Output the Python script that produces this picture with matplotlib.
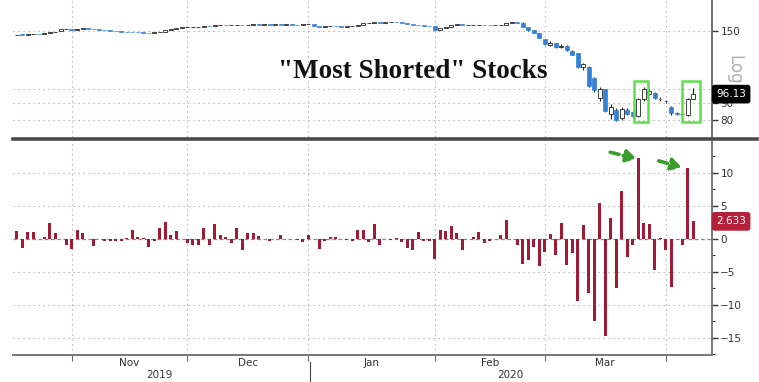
import matplotlib
matplotlib.use("Agg")
import matplotlib.pyplot as plt
import numpy as np
from matplotlib.patches import Rectangle
from matplotlib.lines import Line2D
from matplotlib.ticker import MultipleLocator, NullLocator, NullFormatter

# daily candles (weekday index 0 = mid Oct 2019, 123 = early Apr 2020)
opens = [
    146.0, 146.6, 146.2, 146.8, 147.4, 147.2, 148.0, 149.2, 150.0, 152.0,
    152.6, 151.4, 152.6, 153.0, 152.6, 152.0, 151.8, 151.2, 150.2, 149.8,
    149.4, 149.2, 149.0, 148.8, 148.6, 148.2, 148.8, 149.2, 150.8, 152.4,
    153.6, 154.0, 154.2, 154.6, 155.0, 155.6, 155.4, 156.2, 156.6, 156.4,
    156.8, 157.2, 156.8, 157.2, 157.4, 157.2, 157.4, 157.0, 157.4, 157.2,
    157.6, 157.2, 156.8, 157.6, 157.6, 155.2, 154.8, 155.2, 155.6, 155.4,
    155.0, 155.4, 156.0, 157.0, 158.4, 159.0, 160.0, 159.4, 159.8, 160.0,
    159.6, 159.2, 157.4, 156.4, 156.2, 155.6, 155.2, 151.8, 153.6, 155.0,
    157.0, 157.6, 156.2, 156.2, 156.6, 157.2, 156.6, 156.2, 156.2, 157.2,
    159.4, 159.6, 158.6, 154.6, 150.8, 147.6, 141.6, 135.6, 137.6, 133.8,
    135.0, 130.6, 128.6, 116.4, 116.4, 108.0, 93.4, 99.4, 83.8, 86.2,
    81.0, 86.2, 84.8, 82.2, 92.6, 96.0, 97.0, 92.8, 91.6, 88.0,
    84.0, 83.4, 83.2, 93.2,
]
closes = [
    146.5, 146.0, 146.8, 147.2, 147.0, 147.8, 149.0, 149.6, 152.0, 152.6,
    151.2, 152.6, 153.0, 152.6, 152.0, 151.8, 151.4, 150.2, 149.8, 149.4,
    149.2, 149.0, 148.8, 148.6, 148.2, 148.8, 149.2, 150.8, 152.4, 153.6,
    154.0, 154.2, 154.6, 155.0, 155.6, 155.4, 156.2, 156.6, 156.4, 156.8,
    157.2, 156.8, 157.2, 157.4, 157.2, 157.4, 157.0, 157.4, 157.2, 157.6,
    157.2, 156.8, 157.6, 157.8, 155.2, 154.8, 155.2, 155.6, 155.4, 155.0,
    155.4, 156.0, 157.0, 158.4, 159.0, 160.0, 159.4, 159.8, 160.0, 159.6,
    159.2, 157.4, 156.4, 156.2, 155.6, 155.2, 151.8, 153.6, 155.0, 157.0,
    157.6, 156.2, 156.2, 156.6, 157.2, 156.6, 156.2, 156.2, 156.8, 159.4,
    159.6, 159.0, 155.0, 151.0, 148.6, 143.0, 137.2, 137.8, 134.2, 135.4,
    131.0, 127.0, 116.6, 119.0, 102.0, 99.0, 99.6, 85.2, 88.0, 80.2,
    86.6, 83.8, 82.2, 93.0, 99.4, 98.2, 93.4, 92.6, 91.4, 84.0,
    83.8, 83.6, 92.6, 96.13,
]
# wicks only where they are visible (the sell-off)
wick_idx = list(range(92, 124))
wick_hi = [
    159.6, 155.0, 151.4, 148.4, 141.8, 139.6, 138.0, 136.6, 135.6, 131.2,
    129.0, 120.0, 117.0, 108.6, 100.8, 100.0, 89.4, 87.0, 87.8, 87.0,
    85.4, 93.8, 101.0, 99.6, 97.6, 94.2, 92.4, 88.6, 85.0, 84.4,
    93.4, 100.2,
]
wick_lo = [
    154.6, 150.4, 148.0, 142.6, 136.4, 135.0, 133.6, 132.8, 130.4, 126.4,
    116.0, 113.8, 101.4, 97.8, 91.6, 84.6, 80.4, 79.4, 79.8, 83.0,
    81.2, 81.6, 91.8, 95.4, 92.8, 91.8, 90.6, 83.2, 83.0, 82.8,
    82.6, 92.8,
]

# lower panel bars
bar_vals = [
    1.1, -1.4, 1.0, 1.0, 0.0, 0.2, 2.4, 0.8, -0.1, -1.0,
    -1.6, 1.4, 0.8, 0.0, -1.1, 0.0, -0.3, -0.3, -0.3, -0.3,
    0.1, 1.3, 0.3, 0.1, -1.3, -0.3, 1.7, 2.6, 0.6, 1.1,
    0.0, -0.6, -1.0, -1.0, 1.7, -1.0, 2.3, 0.5, 0.2, -0.6,
    1.6, -1.7, 0.8, 0.8, 0.4, 0.0, -0.4, 0.0, 0.6, 0.0,
    0.0, -0.2, -0.5, 0.6, 0.0, -1.5, -0.3, 0.3, 0.3, 0.0,
    -0.2, -0.3, 1.3, 1.3, -0.5, 2.2, -1.0, 0.0, -0.2, 0.1,
    -0.5, -1.4, -1.7, 1.0, -0.3, -0.3, -3.0, 1.3, 1.1, 1.9,
    0.8, -1.7, 0.0, 0.3, 1.0, -0.7, -0.4, 0.0, 0.6, 2.8,
    0.0, -0.9, -3.8, -3.2, -1.2, -4.2, -2.0, 0.7, -2.4, 2.4,
    -4.0, -2.2, -9.4, 2.1, -8.2, -12.4, 5.4, -14.7, 3.2, -7.5,
    7.2, -2.8, -1.0, 12.2, 2.4, 2.2, -4.7, 0.1, -1.7, -7.3,
    0.0, -0.9, 10.7, 2.633,
]

month_bounds = [10, 31, 53, 76, 96, 118]
month_mids = [20.5, 42, 64.5, 86, 107]
month_labels = ["Nov", "Dec", "Jan", "Feb", "Mar"]
year_pos = [26, 89.7]
year_labels = ["2019", "2020"]
year_split = 53.3

price_ticks = [80, 90, 100, 150]
price_labels = ["80", "90", "", "150"]
last_price = 96.13
last_bar = 2.633

BLUE = "#3380d4"
RED = "#a01c36"
GRID = "#9a9a9a"
GREEN_BOX = "#5fe04a"
GREEN_ARR = "#3a9e2c"

W, H = 759, 382


def px_box(x0, y0, x1, y1):
    return [x0 / W, 1 - y1 / H, (x1 - x0) / W, (y1 - y0) / H]


fig = plt.figure(figsize=(W / 100, H / 100), dpi=100)
fig.patch.set_facecolor("white")
ax_top = fig.add_axes(px_box(13, 0, 712, 137))
ax_bot = fig.add_axes(px_box(13, 141, 712, 355))

x = np.arange(len(closes))
o = np.array(opens)
c = np.array(closes)

# ---- top panel: candles on log scale
ax_top.set_yscale("log")
ax_top.set_xlim(-0.67, 126.4)
ax_top.set_ylim(71, 187)

ax_top.vlines(wick_idx, wick_lo, wick_hi, color="#222222", lw=0.8, zorder=2)
up = c >= o
body_lo = np.minimum(o, c)
body_h = np.maximum(np.abs(c - o), 0.35)
ax_top.bar(x[up], body_h[up], bottom=body_lo[up], width=0.7,
           color="white", edgecolor="#222222", linewidth=0.6, zorder=3)
ax_top.bar(x[~up], body_h[~up], bottom=body_lo[~up], width=0.8,
           color=BLUE, edgecolor=BLUE, linewidth=0.5, zorder=3)

ax_top.set_yticks(price_ticks)
ax_top.set_yticklabels(price_labels)
ax_top.yaxis.set_minor_locator(NullLocator())
ax_top.yaxis.set_minor_formatter(NullFormatter())
ax_top.yaxis.tick_right()
ax_top.set_xticks([])
ax_top.tick_params(axis="y", direction="out", length=4, width=1, color="#333333",
                   labelsize=7.5, labelcolor="#333333", pad=2)
for s in ["left", "top", "bottom"]:
    ax_top.spines[s].set_visible(False)
ax_top.spines["right"].set_color("#555555")
ax_top.spines["right"].set_linewidth(1.2)
for yv in price_ticks:
    ax_top.axhline(yv, color=GRID, lw=0.8, ls=(0, (1, 3.5)), zorder=1)
for xv in month_bounds:
    ax_top.axvline(xv, color=GRID, lw=0.8, ls=(0, (1, 3.5)), zorder=1)

# green highlight boxes
for x0, x1 in [(112.2, 114.8), (121.0, 124.3)]:
    ax_top.add_patch(Rectangle((x0, 79.0), x1 - x0, 105.3 - 79.0, fill=False,
                               edgecolor=GREEN_BOX, lw=1.8, zorder=4))

ax_top.text(1.006, last_price, f"{last_price:.2f}", transform=ax_top.get_yaxis_transform(),
            color="white", fontsize=7.5, ha="left", va="center", zorder=6,
            bbox=dict(boxstyle="round,pad=0.35,rounding_size=0.2", fc="black", ec="black"))

# ---- bottom panel: bars
ax_bot.set_xlim(-0.67, 126.4)
ax_bot.set_ylim(-17.6, 14.8)
ax_bot.bar(np.arange(len(bar_vals)), bar_vals, width=0.5, color=RED, zorder=3)

ax_bot.set_yticks([-15, -10, -5, 0, 5, 10])
ax_bot.yaxis.set_minor_locator(MultipleLocator(2.5))
ax_bot.yaxis.tick_right()
ax_bot.tick_params(axis="y", which="major", direction="out", length=4, width=1,
                   color="#333333", labelsize=7.5, labelcolor="#333333", pad=2)
ax_bot.tick_params(axis="y", which="minor", direction="out", length=2, width=0.8,
                   color="#333333")
for yv in [-15, -10, -5, 5, 10]:
    ax_bot.axhline(yv, color=GRID, lw=0.8, ls=(0, (1, 3.5)), zorder=1)
ax_bot.axhline(0, color="#888888", lw=0.9, ls=(0, (3, 2)), zorder=2)
for xv in month_bounds:
    ax_bot.axvline(xv, color=GRID, lw=0.8, ls=(0, (1, 3.5)), zorder=1)

ax_bot.set_xticks(month_bounds)
ax_bot.set_xticklabels([""] * len(month_bounds))
ax_bot.set_xticks(month_mids, minor=True)
ax_bot.set_xticklabels(month_labels, minor=True)
ax_bot.tick_params(axis="x", which="major", direction="out", length=4, width=0.8,
                   color="#666666")
ax_bot.tick_params(axis="x", which="minor", length=0, labelsize=7.5,
                   labelcolor="#333333", pad=2)
for s in ["left", "top"]:
    ax_bot.spines[s].set_visible(False)
for s in ["right", "bottom"]:
    ax_bot.spines[s].set_color("#777777")
    ax_bot.spines[s].set_linewidth(1.4)

xt = ax_bot.get_xaxis_transform()
for xp, lab in zip(year_pos, year_labels):
    ax_bot.text(xp, -0.093, lab, transform=xt, ha="center", va="center",
                fontsize=7.5, color="#333333")
ax_bot.plot([year_split, year_split], [-0.035, -0.13], transform=xt,
            color="#444444", lw=0.8, clip_on=False)

ax_bot.text(1.006, last_bar, f"{last_bar:.3f}", transform=ax_bot.get_yaxis_transform(),
            color="white", fontsize=7.5, ha="left", va="center", zorder=6,
            bbox=dict(boxstyle="round,pad=0.35,rounding_size=0.2", fc="#b5203a", ec="#b5203a"))

# green arrows pointing at the two spikes
for tail, head in [((107.9, 13.1), (112.7, 12.1)), ((116.7, 11.8), (120.9, 10.8))]:
    ax_bot.annotate("", xy=head, xytext=tail,
                    arrowprops=dict(arrowstyle="-|>,head_length=0.6,head_width=0.35",
                                    color=GREEN_ARR, lw=2.6, ls=(0, (2.5, 1.2)),
                                    shrinkA=0, shrinkB=0), zorder=5)

# separator band, title, log marker
fig.add_artist(Line2D([13 / W, 757 / W], [1 - 139 / H, 1 - 139 / H],
                      color="#4a4a4a", lw=2.6))
fig.text(413 / W, 1 - 72 / H, '"Most Shorted" Stocks', ha="center", va="center",
         fontsize=19.5, fontweight="bold", family="Liberation Serif", color="#111111")
fig.text(734 / W, 1 - 70 / H, "Log", rotation=-90, ha="center", va="center",
         fontsize=12, color="#b0b0b0")

fig.savefig("out.png", dpi=100)
